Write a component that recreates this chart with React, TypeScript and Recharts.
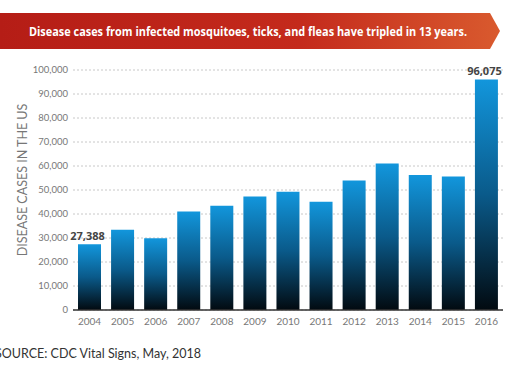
import { BarChart, Bar, XAxis, YAxis, CartesianGrid, LabelList } from "recharts";

const years = ["2004", "2005", "2006", "2007", "2008", "2009", "2010", "2011", "2012", "2013", "2014", "2015", "2016"];
const cases = [27388, 33400, 29900, 41000, 43400, 47300, 49300, 45100, 54000, 61000, 56200, 55600, 96075];
const yTicks = [0, 10000, 20000, 30000, 40000, 50000, 60000, 70000, 80000, 90000, 100000];
const labelledYears = ["2004", "2016"];

const title = "Disease cases from infected mosquitoes, ticks, and fleas have tripled in 13 years.";
const yTitle = "DISEASE CASES IN THE US";
const source = "SOURCE: CDC Vital Signs, May, 2018";

const data = years.map((y, i) => ({ year: y, cases: cases[i] }));

const fmt = (v: number) => v.toLocaleString("en-US");

function EndLabel(props: any) {
  const { x, y, width, value, index } = props;
  if (!labelledYears.includes(years[index])) return null;
  return (
    <text
      x={x + width / 2 - 2}
      y={y - 4}
      textAnchor="middle"
      fontFamily="'Open Sans', sans-serif"
      fontWeight={700}
      fontSize={11}
      fill="#444"
    >
      {fmt(value)}
    </text>
  );
}

export default function App() {
  return (
    <div style={{ position: "absolute", left: 0, top: 0, width: 510, height: 382, background: "#fff" }}>
      <BarChart
        width={510}
        height={382}
        data={data}
        margin={{ top: 70, right: 7, bottom: 42, left: 0 }}
        barSize={23}
      >
        <defs>
          <linearGradient id="barFill" x1="0" y1="0" x2="0" y2="1">
            <stop offset="0%" stopColor="#1296dc" />
            <stop offset="50%" stopColor="#0a5a8a" />
            <stop offset="100%" stopColor="#020a10" />
          </linearGradient>
        </defs>
        <CartesianGrid vertical={false} stroke="#c8c8c8" strokeDasharray="2 2" />
        <XAxis
          dataKey="year"
          height={30}
          tickLine={false}
          tickSize={0}
          tickMargin={8}
          axisLine={{ stroke: "#333", strokeWidth: 1.5 }}
          tick={{ fontFamily: "Lato, sans-serif", fontSize: 10, fill: "#777" }}
          interval={0}
        />
        <YAxis
          width={73}
          domain={[0, 100000]}
          ticks={yTicks}
          tickFormatter={fmt}
          axisLine={false}
          tickLine={false}
          tickSize={0}
          tickMargin={5}
          tick={{ fontFamily: "Lato, sans-serif", fontSize: 9.5, fill: "#777" }}
        />
        <Bar dataKey="cases" fill="url(#barFill)" isAnimationActive={false}>
          <LabelList dataKey="cases" content={EndLabel} />
        </Bar>
      </BarChart>
      <svg
        width={510}
        height={382}
        style={{ position: "absolute", left: 0, top: 0, pointerEvents: "none" }}
      >
        <defs>
          <linearGradient id="banner" x1="0" y1="0" x2="1" y2="0">
            <stop offset="0%" stopColor="#b51d16" />
            <stop offset="60%" stopColor="#c42a1c" />
            <stop offset="100%" stopColor="#d95a2e" />
          </linearGradient>
        </defs>
        <polygon points="0,13 490,13 500,31 490,49 0,49" fill="url(#banner)" />
        <text
          transform="translate(248,35.5) scale(0.84,1)"
          x={0}
          y={0}
          textAnchor="middle"
          fontFamily="'Open Sans', sans-serif"
          fontWeight={700}
          fontSize={13}
          fill="#fff"
        >
          {title}
        </text>
        <text
          transform="translate(27,180) rotate(-90)"
          textAnchor="middle"
          fontFamily="Lato, sans-serif"
          fontSize={12.5}
          fill="#777"
        >
          {yTitle}
        </text>
        <text x={-5} y={358} fontFamily="Lato, sans-serif" fontSize={12.5} fill="#333">
          {source}
        </text>
      </svg>
    </div>
  );
}
